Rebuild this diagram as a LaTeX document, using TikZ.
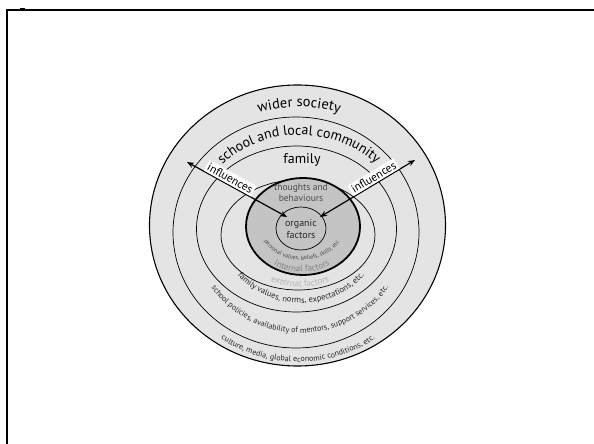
\documentclass[tikz,border=0pt]{standalone}
\usepackage{fontspec}
\setmainfont{PT Sans}
\usetikzlibrary{decorations.text,arrows.meta,calc}
\definecolor{ringgray}{HTML}{E4E4E4}
\definecolor{coregray}{HTML}{C4C4C4}
\definecolor{intgray}{HTML}{828282}
\definecolor{extgray}{HTML}{B2B2B2}
\definecolor{txtgray}{HTML}{4A4A4A}
\definecolor{dark}{HTML}{262626}
\tikzset{
  ringline/.style={line width=0.7pt},
  arctxt/.style={decorate,decoration={text along path,text align=center,#1}},
  infl/.style={<->,>={Stealth[length=7pt,width=5.5pt]},line width=1.2pt},
  inflbox/.style={fill=white,inner sep=1.8pt,font=\fontsize{11.5}{13}\selectfont,sloped,above}
}
\begin{document}
\begin{tikzpicture}[x=1pt,y=1pt]
\useasboundingbox (0,0) rectangle (594,444);
% frame
\draw[line width=2.2pt] (7,0) -- (7,434) -- (594,434);
\fill (20,432.5) rectangle (25,436);
% centres
\coordinate (cout) at (297.5,218.5);
\coordinate (c2) at (296,211.5);
\coordinate (c3) at (296.5,215);
\coordinate (c4) at (298,209);
\coordinate (ck) at (303,217.5);
\coordinate (ci) at (301,215.5);
% rings
\draw[fill=ringgray,line width=1.1pt] (cout) ellipse[x radius=148pt,y radius=140.5pt];
\draw[ringline] (c2) ellipse[x radius=123pt,y radius=115.5pt];
\draw[ringline] (c3) ellipse[x radius=100pt,y radius=83pt];
\draw[ringline] (c4) ellipse[x radius=77pt,y radius=55pt];
\draw[fill=coregray,line width=1.8pt] (ck) ellipse[x radius=57pt,y radius=48.5pt];
\draw[ringline] (ci) ellipse[x radius=25pt,y radius=21.5pt];
% top labels
\coordinate (tw) at (299,218.5);
\coordinate (ts) at (299,217);
\path[arctxt={text={|\fontsize{14.5}{16}\selectfont|wider society}}]
  ($(tw)+(170:130pt and 118.5pt)$) arc[start angle=170,end angle=10,x radius=130pt,y radius=118.5pt];
\path[arctxt={text={|\fontsize{14}{16}\selectfont|school and local community}}]
  ($(ts)+(178:105pt and 92pt)$) arc[start angle=178,end angle=2,x radius=105pt,y radius=92pt];
\node[font=\fontsize{14}{16}\selectfont] (fam) at (302,284) {family};
\node[font=\fontsize{9.5}{11.5}\selectfont,text=txtgray,align=center] (tb) at (301,251.5) {thoughts and\\behaviours};
\node[font=\fontsize{10}{12}\selectfont,text=dark,align=center] (org) at (301,215) {organic\\factors};
% bottom labels
\coordinate (tb0) at (302,217);
\coordinate (tb1) at (300,217);
\coordinate (tb2) at (301,217);
\coordinate (tb3) at (298,217);
\path[arctxt={text={|\fontsize{6}{7}\selectfont|personal values, beliefs, skills, etc.},text color=txtgray}]
  ($(tb0)+(185:42pt and 33pt)$) arc[start angle=185,end angle=355,x radius=42pt,y radius=33pt];
\path[arctxt={text={|\fontsize{9}{10}\selectfont|internal factors},text color=intgray}]
  ($(tb0)+(185:52pt and 45pt)$) arc[start angle=185,end angle=355,x radius=52pt,y radius=45pt];
\path[arctxt={text={|\fontsize{9}{10}\selectfont|external factors},text color=extgray}]
  ($(tb1)+(185:68pt and 60pt)$) arc[start angle=185,end angle=355,x radius=68pt,y radius=60pt];
\path[arctxt={text={|\fontsize{8.5}{9}\selectfont|family values, norms, expectations, etc.},text color=dark}]
  ($(tb2)+(185:82pt and 76pt)$) arc[start angle=185,end angle=355,x radius=82pt,y radius=76pt];
\path[arctxt={text={|\fontsize{8}{9}\selectfont|school policies, availability of mentors, support services, etc.},text color=dark}]
  ($(tb1)+(185:108pt and 106pt)$) arc[start angle=185,end angle=355,x radius=108pt,y radius=106pt];
\path[arctxt={text={|\fontsize{8}{9}\selectfont|culture, media, global economic conditions, etc.},text color=dark}]
  ($(tb3)+(185:138pt and 135pt)$) arc[start angle=185,end angle=355,x radius=138pt,y radius=135pt];
% influences arrows
\coordinate (a1) at (187,282);
\coordinate (a2) at (287,227);
\coordinate (a3) at (320,227);
\coordinate (a4) at (415,284);
\draw[infl] (a1) -- (a2) node[inflbox,pos=0.40] (lab1) {influences};
\draw[infl] (a3) -- (a4) node[inflbox,pos=0.60] (lab2) {influences};
\end{tikzpicture}
\end{document}
